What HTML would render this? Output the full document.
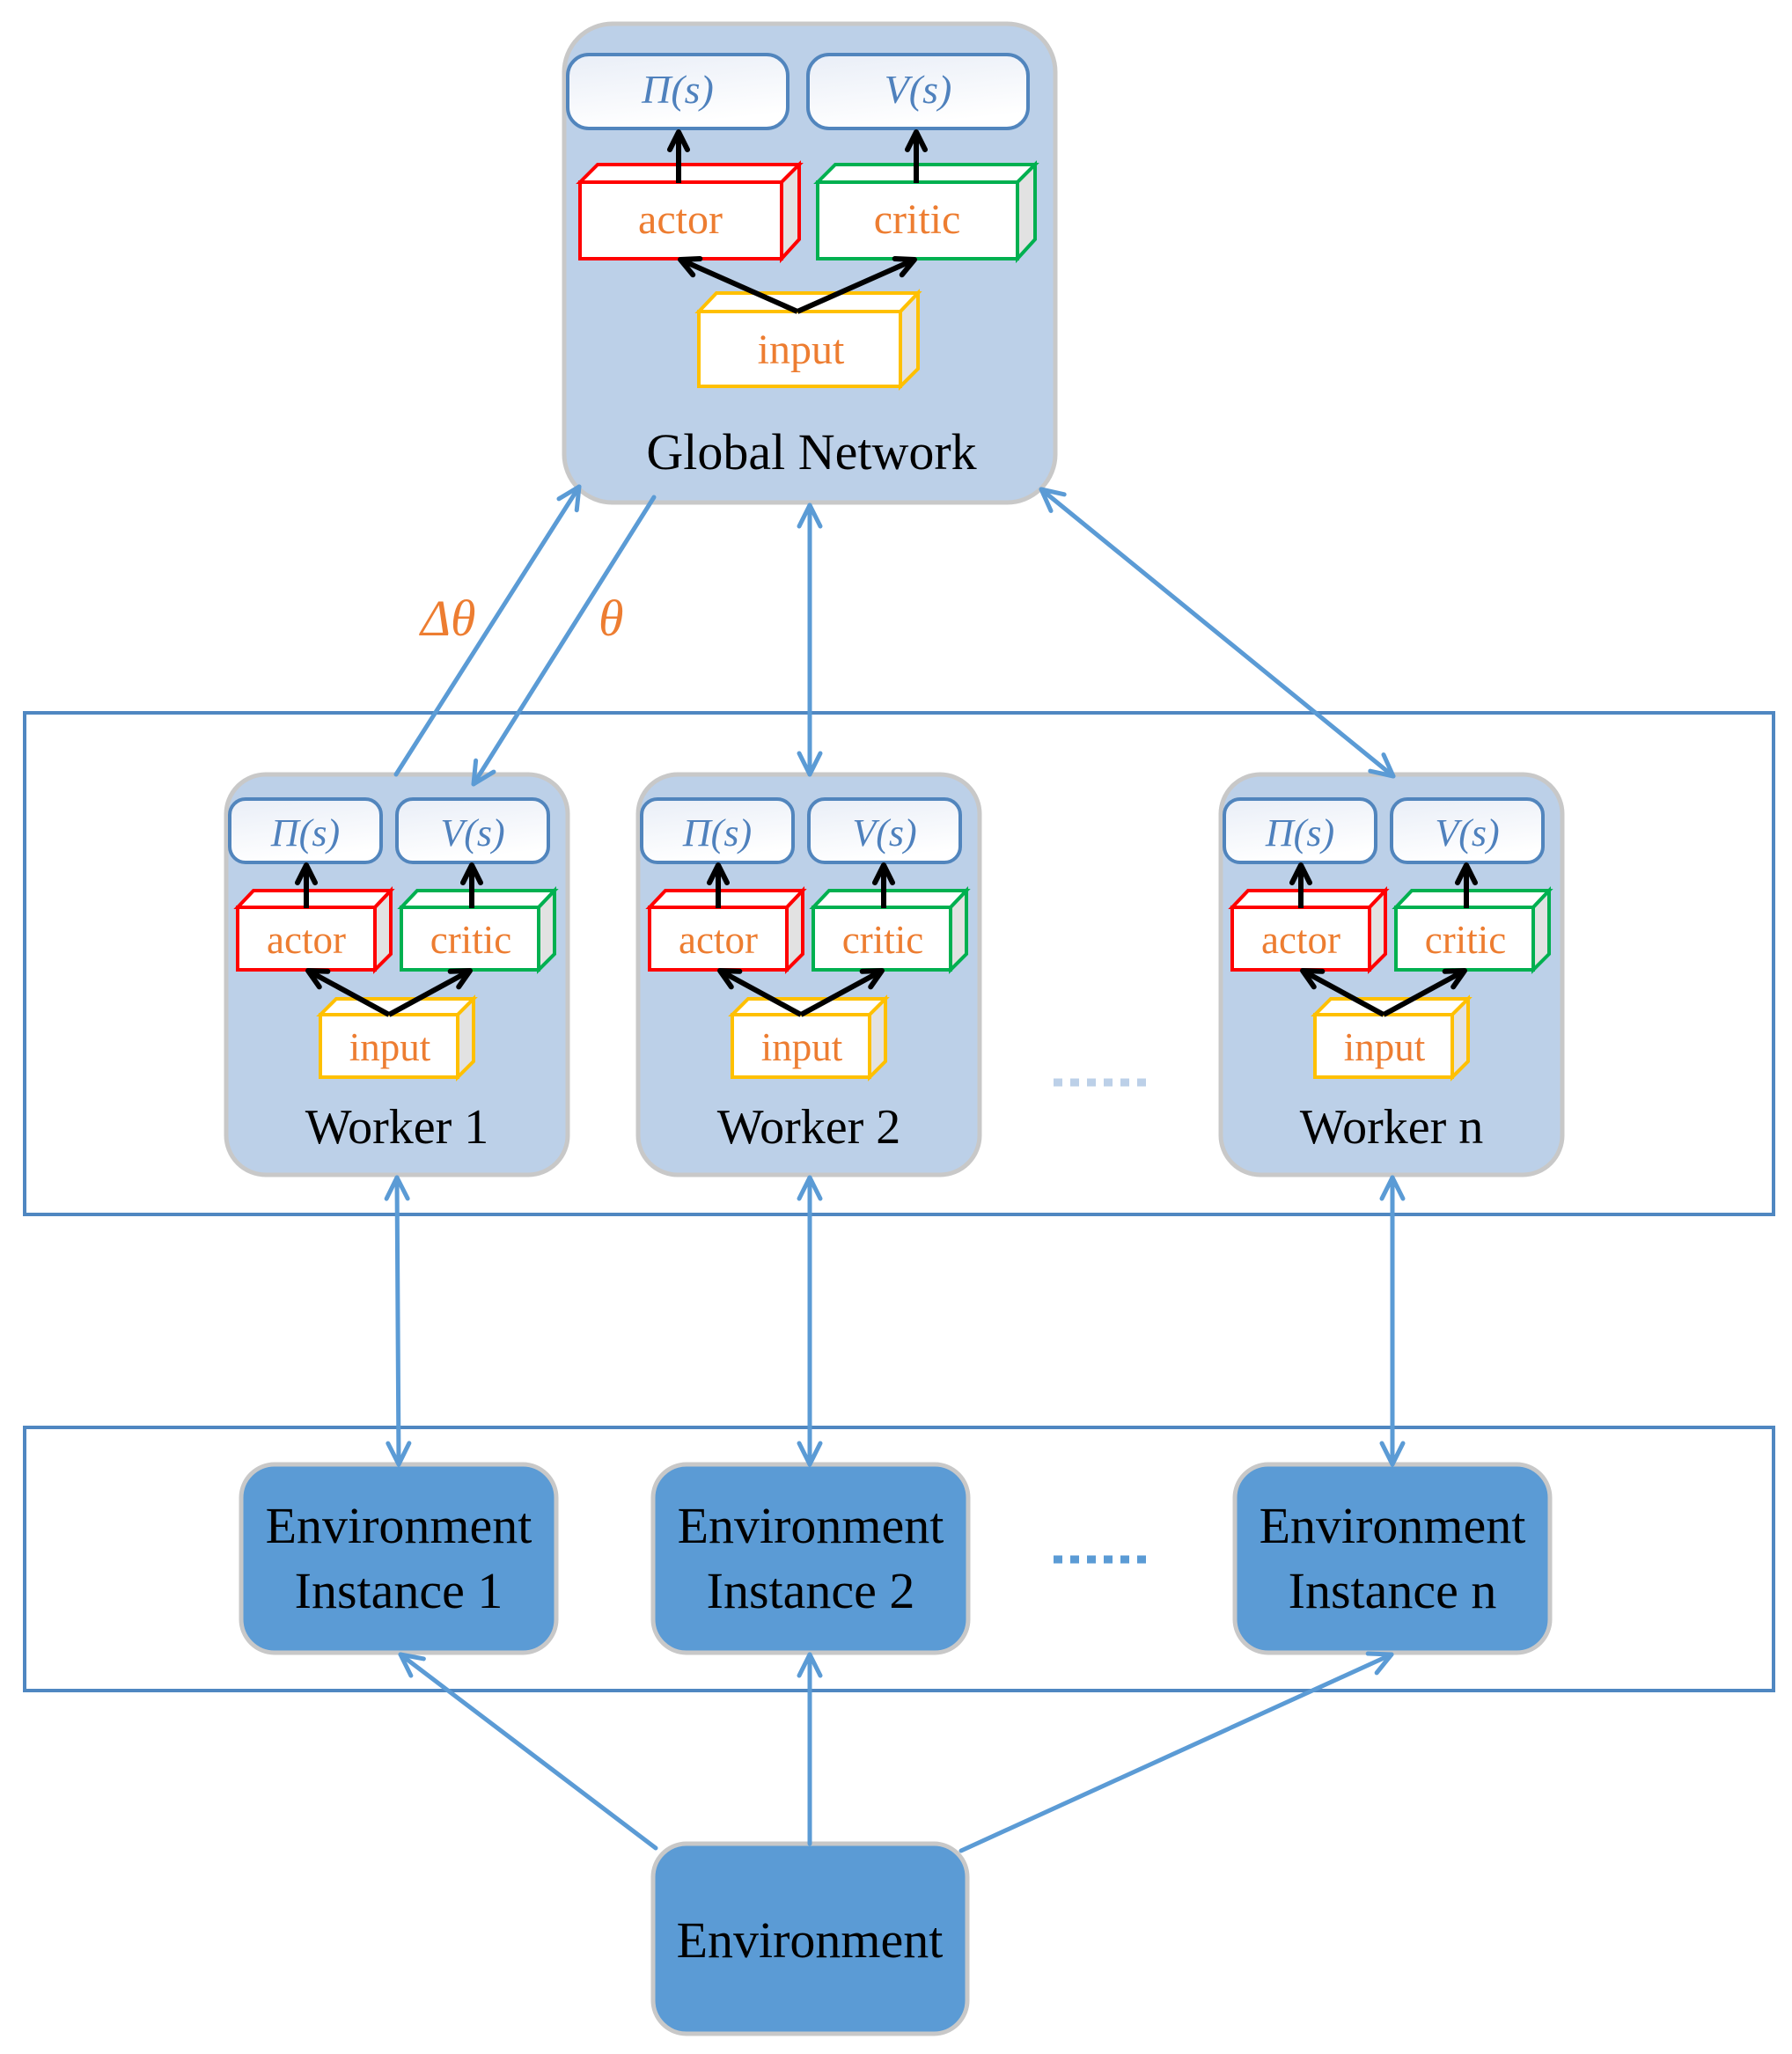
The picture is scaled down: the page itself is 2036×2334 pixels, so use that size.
<!DOCTYPE html>
<html><head><meta charset="utf-8"><style>
html,body{margin:0;padding:0;background:#fff}
svg{display:block}
svg text{font-family:"Liberation Serif","DejaVu Serif",serif}
</style></head><body>
<svg width="2036" height="2334" viewBox="0 0 2036 2334" xmlns="http://www.w3.org/2000/svg" font-family="'Liberation Serif','DejaVu Serif',serif">
<defs>
<marker id="ab" markerUnits="userSpaceOnUse" markerWidth="40" markerHeight="40" refX="28" refY="14" orient="auto-start-reverse" viewBox="0 0 40 28">
<path d="M4,2 L28,14 L4,26" fill="none" stroke="#5b9bd5" stroke-width="5" stroke-linecap="round" stroke-linejoin="round"/>
</marker>
<marker id="ak" markerUnits="userSpaceOnUse" markerWidth="40" markerHeight="40" refX="24" refY="12" orient="auto" viewBox="0 0 40 24">
<path d="M4,2 L24,12 L4,22" fill="none" stroke="#000" stroke-width="6" stroke-linecap="round" stroke-linejoin="round"/>
</marker>
<linearGradient id="wg" x1="0" y1="0" x2="0.3" y2="1"><stop offset="0" stop-color="#e9eef7"/><stop offset="1" stop-color="#ffffff"/></linearGradient>
</defs>

<rect x="28" y="810" width="1987" height="570" fill="none" stroke="#4f87c1" stroke-width="4"/>
<rect x="28" y="1622" width="1987" height="299" fill="none" stroke="#4f87c1" stroke-width="4"/>

<rect x="641" y="27" width="558" height="544" rx="55" fill="#bcd0e8" stroke="#c8c8c8" stroke-width="5"/>
<rect x="645" y="62" width="250" height="84" rx="24" fill="url(#wg)" stroke="#5185bd" stroke-width="4"/>
<rect x="918" y="62" width="250" height="84" rx="24" fill="url(#wg)" stroke="#5185bd" stroke-width="4"/>
<g font-family="'Liberation Serif','DejaVu Serif',serif">
<text x="770" y="117" font-size="46" font-style="italic" fill="#4f81bd" text-anchor="middle">Π(s)</text>
<text x="1043" y="117" font-size="46" font-style="italic" fill="#4f81bd" text-anchor="middle">V(s)</text>
</g>
<g stroke="#ff0000" stroke-width="4">
<polygon points="659,207 679,187 908,187 888,207" fill="#fff"/>
<polygon points="888,207 908,187 908,272 888,294" fill="#e2e2e2"/>
<rect x="659" y="207" width="229" height="87" fill="#fff"/>
</g>
<g stroke="#00b050" stroke-width="4">
<polygon points="929,207 949,187 1176,187 1156,207" fill="#fff"/>
<polygon points="1156,207 1176,187 1176,272 1156,294" fill="#e2e2e2"/>
<rect x="929" y="207" width="227" height="87" fill="#fff"/>
</g>
<g stroke="#ffc000" stroke-width="4">
<polygon points="794,354 814,333 1043,333 1023,354" fill="#fff"/>
<polygon points="1023,354 1043,333 1043,419 1023,439" fill="#e2e2e2"/>
<rect x="794" y="354" width="229" height="85" fill="#fff"/>
</g>
<g font-family="'Liberation Serif','DejaVu Serif',serif" font-size="48" fill="#ed7d31" text-anchor="middle">
<text x="773" y="265">actor</text>
<text x="1042" y="265">critic</text>
<text x="910" y="413">input</text>
</g>
<g stroke="#000" stroke-width="6" fill="none" marker-end="url(#ak)">
<line x1="771" y1="208" x2="771" y2="150"/>
<line x1="1041" y1="208" x2="1041" y2="150"/>
<line x1="906" y1="354" x2="773" y2="295"/>
<line x1="906" y1="354" x2="1039" y2="295"/>
</g>
<text x="922" y="533" font-size="58" fill="#000" text-anchor="middle" font-family="'Liberation Serif','DejaVu Serif',serif">Global Network</text>

<g id="w1" font-family="'Liberation Serif','DejaVu Serif',serif">
<rect x="257" y="880" width="388" height="455" rx="45" fill="#bcd0e8" stroke="#c8c8c8" stroke-width="5"/>
<rect x="261" y="908" width="172" height="72" rx="18" fill="url(#wg)" stroke="#5185bd" stroke-width="4"/>
<rect x="451" y="908" width="172" height="72" rx="18" fill="url(#wg)" stroke="#5185bd" stroke-width="4"/>
<text x="347" y="961" font-size="44" font-style="italic" fill="#4f81bd" text-anchor="middle">Π(s)</text>
<text x="537" y="961" font-size="44" font-style="italic" fill="#4f81bd" text-anchor="middle">V(s)</text>
<g stroke="#ff0000" stroke-width="4">
<polygon points="270,1031 288,1012 444,1012 426,1031" fill="#fff"/>
<polygon points="426,1031 444,1012 444,1084 426,1102" fill="#e2e2e2"/>
<rect x="270" y="1031" width="156" height="71" fill="#fff"/>
</g>
<text x="348" y="1083" font-size="45" fill="#ed7d31" text-anchor="middle">actor</text>
<g stroke="#00b050" stroke-width="4">
<polygon points="456,1031 474,1012 630,1012 612,1031" fill="#fff"/>
<polygon points="612,1031 630,1012 630,1084 612,1102" fill="#e2e2e2"/>
<rect x="456" y="1031" width="156" height="71" fill="#fff"/>
</g>
<text x="535" y="1083" font-size="45" fill="#ed7d31" text-anchor="middle">critic</text>
<g stroke="#ffc000" stroke-width="4">
<polygon points="364,1153 382,1135 538,1135 520,1153" fill="#fff"/>
<polygon points="520,1153 538,1135 538,1206 520,1224" fill="#e2e2e2"/>
<rect x="364" y="1153" width="156" height="71" fill="#fff"/>
</g>
<text x="443" y="1205" font-size="45" fill="#ed7d31" text-anchor="middle">input</text>
<g stroke="#000" stroke-width="6" fill="none" marker-end="url(#ak)">
<line x1="348" y1="1032" x2="348" y2="983"/>
<line x1="536" y1="1032" x2="536" y2="983"/>
<line x1="442" y1="1153" x2="350" y2="1103"/>
<line x1="442" y1="1153" x2="534" y2="1103"/>
</g>
</g>
<use href="#w1" transform="translate(468,0)"/>
<use href="#w1" transform="translate(1130,0)"/>
<g font-family="'Liberation Serif','DejaVu Serif',serif" font-size="56" fill="#000" text-anchor="middle">
<text x="451" y="1299">Worker 1</text>
<text x="919" y="1299">Worker 2</text>
<text x="1581" y="1299">Worker n</text>
</g>

<line x1="1197" y1="1230" x2="1309" y2="1230" stroke="#bcd0e8" stroke-width="9" stroke-dasharray="10,9"/>

<g stroke="#c8c8c8" stroke-width="5" fill="#5b9bd5">
<rect x="274" y="1664" width="358" height="214" rx="38"/>
<rect x="742" y="1664" width="358" height="214" rx="38"/>
<rect x="1403" y="1664" width="358" height="214" rx="38"/>
<rect x="742" y="2095" width="357" height="216" rx="38"/>
</g>
<g font-family="'Liberation Serif','DejaVu Serif',serif" font-size="58" fill="#000" text-anchor="middle">
<text x="453" y="1753">Environment</text><text x="453" y="1827">Instance 1</text>
<text x="921" y="1753">Environment</text><text x="921" y="1827">Instance 2</text>
<text x="1582" y="1753">Environment</text><text x="1582" y="1827">Instance n</text>
<text x="920" y="2224">Environment</text>
</g>
<line x1="1197" y1="1772" x2="1309" y2="1772" stroke="#5b9bd5" stroke-width="9" stroke-dasharray="10,9"/>

<g stroke="#5b9bd5" stroke-width="5" fill="none" stroke-linecap="round">
<line x1="450" y1="880" x2="658" y2="553" marker-end="url(#ab)"/>
<line x1="743" y1="565" x2="538" y2="891" marker-end="url(#ab)"/>
<line x1="920" y1="574" x2="920" y2="880" marker-start="url(#ab)" marker-end="url(#ab)"/>
<line x1="1183" y1="556" x2="1583" y2="882" marker-start="url(#ab)" marker-end="url(#ab)"/>
<line x1="451" y1="1338" x2="453" y2="1664" marker-start="url(#ab)" marker-end="url(#ab)"/>
<line x1="920" y1="1338" x2="920" y2="1664" marker-start="url(#ab)" marker-end="url(#ab)"/>
<line x1="1582" y1="1338" x2="1582" y2="1664" marker-start="url(#ab)" marker-end="url(#ab)"/>
<line x1="745" y1="2100" x2="455" y2="1880" marker-end="url(#ab)"/>
<line x1="920" y1="2095" x2="920" y2="1880" marker-end="url(#ab)"/>
<line x1="1092" y1="2103" x2="1581" y2="1880" marker-end="url(#ab)"/>
</g>
<g font-family="'Liberation Serif','DejaVu Serif',serif" font-size="58" font-style="italic" fill="#ed7d31">
<text x="478" y="722">Δθ</text>
<text x="680" y="722">θ</text>
</g>
</svg>
</body></html>
